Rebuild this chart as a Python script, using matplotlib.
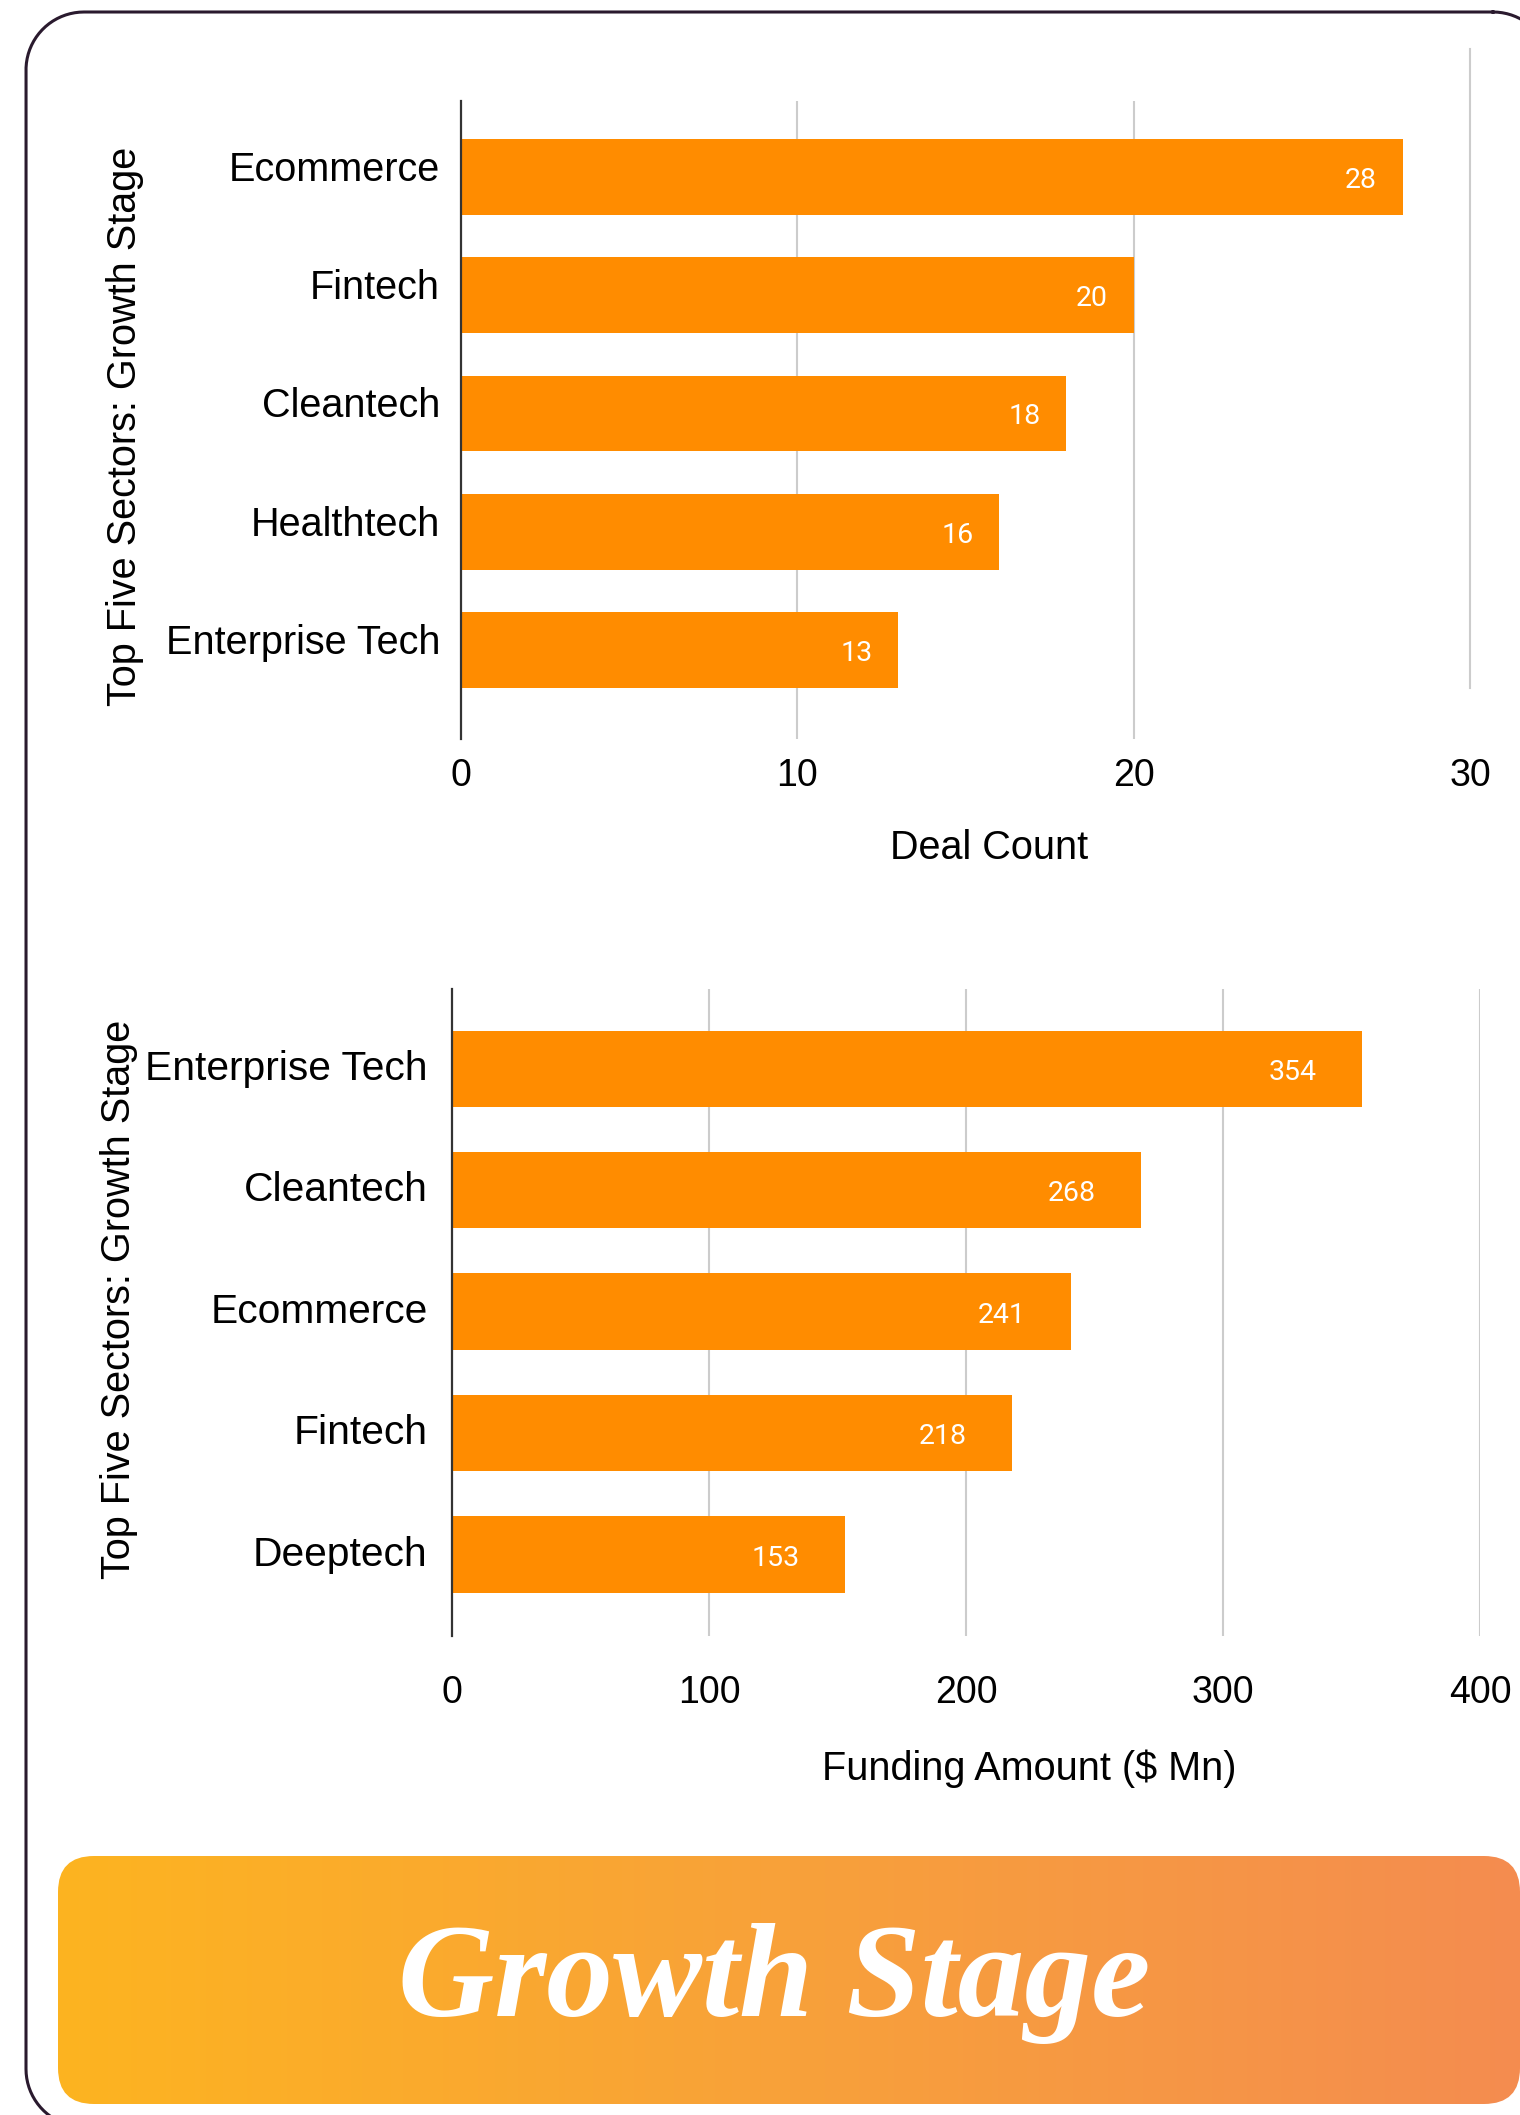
import numpy as np
import matplotlib
matplotlib.use("Agg")
import matplotlib.pyplot as plt
from matplotlib.patches import FancyBboxPatch
from matplotlib.transforms import ScaledTranslation

# data
deal_sectors = ['Ecommerce', 'Fintech', 'Cleantech', 'Healthtech', 'Enterprise Tech']
deal_counts = [28, 20, 18, 16, 13]
deal_ticks = [0, 10, 20, 30]

fund_sectors = ['Enterprise Tech', 'Cleantech', 'Ecommerce', 'Fintech', 'Deeptech']
fund_amounts = [354, 268, 241, 218, 153]
fund_ticks = [0, 100, 200, 300, 400]

ylabel_text = 'Top Five Sectors: Growth Stage'
banner_text = 'Growth Stage'

W, H = 1520, 2115
BAR = '#FF8C00'
GRID = '#cccccc'

plt.rcParams['font.family'] = ['Liberation Sans', 'DejaVu Sans']


def rounded_outline(x0, y0, x1, y1, r, n=40):
    # polyline of a rounded rectangle (pixel coords, y down)
    xs, ys = [], []
    corners = [(x1 - r, y0 + r, -90, 0), (x1 - r, y1 - r, 0, 90),
               (x0 + r, y1 - r, 90, 180), (x0 + r, y0 + r, 180, 270)]
    for cx, cy, a0, a1 in corners:
        a = np.radians(np.linspace(a0, a1, n))
        xs.extend(cx + r * np.cos(a))
        ys.extend(cy + r * np.sin(a))
    xs.append(xs[0])
    ys.append(ys[0])
    return xs, ys


fig = plt.figure(figsize=(W / 100, H / 100), dpi=100)
fig.patch.set_facecolor('white')

# background layer in pixel coordinates (border + banner)
bg = fig.add_axes([0, 0, 1, 1])
bg.set_xlim(0, W)
bg.set_ylim(H, 0)
bg.axis('off')

bx, by = rounded_outline(26, 12, 1551, 2127, 58)
bg.plot(bx, by, color='#2a1a2e', linewidth=2.2, clip_on=False, solid_joinstyle='round')

banner = FancyBboxPatch((58, 1856), 1462, 248, boxstyle='round,pad=0,rounding_size=36',
                        facecolor='none', edgecolor='none')
bg.add_patch(banner)
grad = np.linspace(0, 1, 256).reshape(1, -1)
cmap = matplotlib.colors.LinearSegmentedColormap.from_list('g', ['#FDB420', '#F8A13A', '#F48C50'])
# image a bit larger than the banner, the rounded patch does the clipping
im = bg.imshow(grad, cmap=cmap, extent=[50, 1530, 2112, 1848], aspect='auto')
im.set_clip_path(banner)
bg.set_xlim(0, W)
bg.set_ylim(H, 0)
bg.text(774, 2016, banner_text, color='white', fontsize=96, fontweight='bold', fontstyle='italic',
        family='Liberation Serif', ha='center', va='baseline')


def bar_chart(rect, sectors, values, ticks, ylim, height, label_off, tick_pad, cat_pad, cat_size):
    ax = fig.add_axes(rect)
    ax.set_facecolor('none')
    y = np.arange(len(sectors))
    bars = ax.barh(y, values, height=height, color=BAR, zorder=3)
    ax.set_ylim(*ylim)
    ax.set_xlim(ticks[0], ticks[-1])
    ax.set_xticks(ticks)
    ax.set_yticks(y)
    ax.set_yticklabels(sectors)
    ax.tick_params(axis='both', length=0)
    ax.tick_params(axis='x', pad=tick_pad, labelsize=27)
    ax.tick_params(axis='y', pad=cat_pad, labelsize=cat_size)
    for s in ['top', 'right', 'bottom']:
        ax.spines[s].set_visible(False)
    ax.spines['left'].set_color('#333333')
    ax.spines['left'].set_linewidth(1.6)
    ax.spines['left'].set_zorder(4)
    for v, b in zip(values, bars):
        ax.annotate(str(v), (v, b.get_y() + b.get_height() / 2), xytext=(label_off, -2.5),
                    textcoords='offset points', ha='center', va='center', color='white',
                    fontsize=20.5, family='Roboto', zorder=5)
    return ax


# top chart: deal count
ax1 = bar_chart([461 / W, 1 - 739 / H, 1009 / W, 638 / H], deal_sectors, deal_counts, deal_ticks,
                (4.75, -0.64), 0.64, -30, 14, 15, 28.5)
for t in deal_ticks[1:-1]:
    ax1.axvline(t, color=GRID, linewidth=1.5, zorder=1)
ax1.axvline(deal_ticks[-1], ymin=0.08, ymax=1.081, color=GRID, linewidth=1.5, zorder=1, clip_on=False)
shift = ScaledTranslation(0, 11 / 100, fig.dpi_scale_trans)
for lab in ax1.get_yticklabels():
    lab.set_transform(lab.get_transform() + shift)

# bottom chart: funding amount
ax2 = bar_chart([452 / W, 1 - 1636 / H, 1028 / W, 647.4 / H], fund_sectors, fund_amounts, fund_ticks,
                (4.67, -0.66), 0.63, -50, 28, 17.6, 29.3)
for t in fund_ticks[1:]:
    ax2.axvline(t, color=GRID, linewidth=1.5, zorder=1)
shift2 = ScaledTranslation(0, 4 / 100, fig.dpi_scale_trans)
for lab in ax2.get_yticklabels():
    lab.set_transform(lab.get_transform() + shift2)

# axis titles
fig.text(989 / W, 1 - 848 / H, 'Deal Count', fontsize=28.5, ha='center', va='center')
fig.text(1029 / W, 1 - 1769 / H, 'Funding Amount ($ Mn)', fontsize=28.5, ha='center', va='center')
fig.text(125 / W, 1 - 426 / H, ylabel_text, fontsize=28.5, rotation=90, ha='center', va='center')
fig.text(119 / W, 1 - 1299 / H, ylabel_text, fontsize=28.5, rotation=90, ha='center', va='center')

fig.savefig('out.png', dpi=100, facecolor='white')
